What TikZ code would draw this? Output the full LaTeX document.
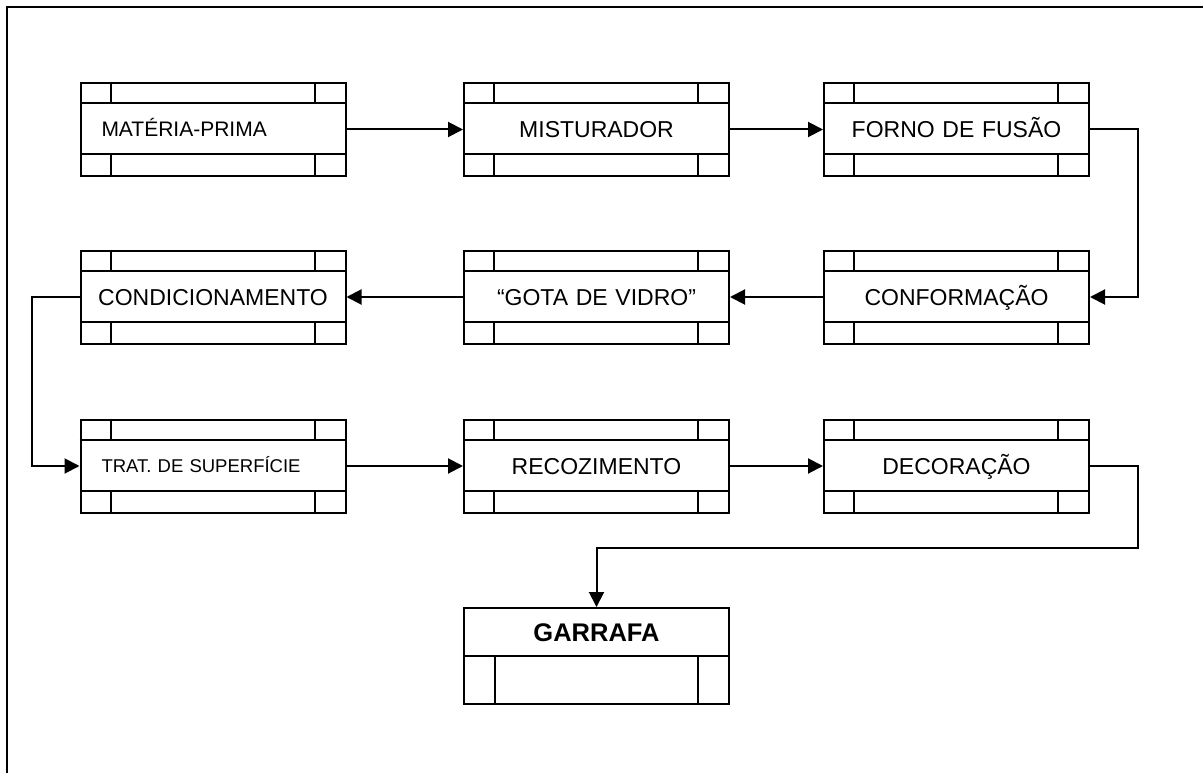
\documentclass[tikz,border=0pt]{standalone}
\usepackage{fontspec}
\setmainfont{Liberation Sans}
\usetikzlibrary{arrows.meta,calc}
\begin{document}
\begin{tikzpicture}[x=1pt,y=1pt,
  lw/.style={line width=2pt},
  flowbox/.style={draw,lw,rectangle,minimum width=265pt,minimum height=93pt,
    inner xsep=0pt,inner ysep=0pt,text width=265pt,align=center,
    text height=16.5pt,text depth=0pt,font=\fontsize{23}{26}\selectfont},
  leftbox/.style={flowbox,inner xsep=21pt,text width=223pt,align=left,
    font=\fontsize{21}{24}\selectfont,text height=15pt},
  smallbox/.style={flowbox,inner xsep=21pt,text width=223pt,align=left,
    font=\fontsize{18.5}{22}\selectfont,text height=13.3pt},
  endbox/.style={draw,lw,rectangle,minimum width=265pt,minimum height=96pt,inner sep=0pt},
  endlabel/.style={font=\bfseries\fontsize{25.5}{28}\selectfont,inner sep=0pt,text height=18.3pt,text depth=0pt},
  conn/.style={lw,-{Triangle[length=15pt,width=15pt]}},
  framestyle/.style={line width=2.2pt}]
\useasboundingbox (0,0) rectangle (1203,-773);
\draw[framestyle] (7,-773) -- (7,-7) -- (1203,-7);

% row 1
\node[leftbox] (mp) at (213,-129.5) {MATÉRIA-PRIMA};
\node[flowbox] (mi) at (596.5,-129.5) {MISTURADOR};
\node[flowbox] (ff) at (956.5,-129.5) {FORNO DE FUSÃO};
% row 2
\node[flowbox] (co) at (213,-297) {CONDICIONAMENTO};
\node[flowbox] (gv) at (596.5,-297) {“GOTA DE VIDRO”};
\node[flowbox] (cf) at (956.5,-297) {CONFORMAÇÃO};
% row 3
\node[smallbox] (ts) at (213,-466) {TRAT. DE SUPERFÍCIE};
\node[flowbox] (rc) at (596.5,-466) {RECOZIMENTO};
\node[flowbox] (de) at (956.5,-466) {DECORAÇÃO};

% inner bands and dividers
\foreach \n in {mp,mi,ff,co,gv,cf,ts,rc,de}{
  \draw[lw] ([yshift=-21pt]\n.north west) -- ([yshift=-21pt]\n.north east);
  \draw[lw] ([yshift=23pt]\n.south west) -- ([yshift=23pt]\n.south east);
  \draw[lw] ([xshift=31pt]\n.north west) -- ([xshift=31pt,yshift=-21pt]\n.north west);
  \draw[lw] ([xshift=-32pt]\n.north east) -- ([xshift=-32pt,yshift=-21pt]\n.north east);
  \draw[lw] ([xshift=31pt]\n.south west) -- ([xshift=31pt,yshift=23pt]\n.south west);
  \draw[lw] ([xshift=-32pt]\n.south east) -- ([xshift=-32pt,yshift=23pt]\n.south east);
}

% final box
\node[endbox] (ga) at (596.5,-656) {};
\node[endlabel] (gal) at (596.5,-632.5) {GARRAFA};
\draw[lw] ([yshift=-49pt]ga.north west) -- ([yshift=-49pt]ga.north east);
\draw[lw] ([xshift=32pt,yshift=-49pt]ga.north west) -- ([xshift=32pt]ga.south west);
\draw[lw] ([xshift=-32pt,yshift=-49pt]ga.north east) -- ([xshift=-32pt]ga.south east);

% connectors
\draw[conn] (mp.east) -- (mi.west);
\draw[conn] (mi.east) -- (ff.west);
\draw[conn] (ff.east) -- ++(48,0) |- (cf.east);
\draw[conn] (cf.west) -- (gv.east);
\draw[conn] (gv.west) -- (co.east);
\draw[conn] (co.west) -- ++(-48,0) |- (ts.west);
\draw[conn] (ts.east) -- (rc.west);
\draw[conn] (rc.east) -- (de.west);
\coordinate (turn) at (596.5,-548);
\draw[conn] (de.east) -- ++(48,0) |- (turn) -- (ga.north);
\end{tikzpicture}
\end{document}
